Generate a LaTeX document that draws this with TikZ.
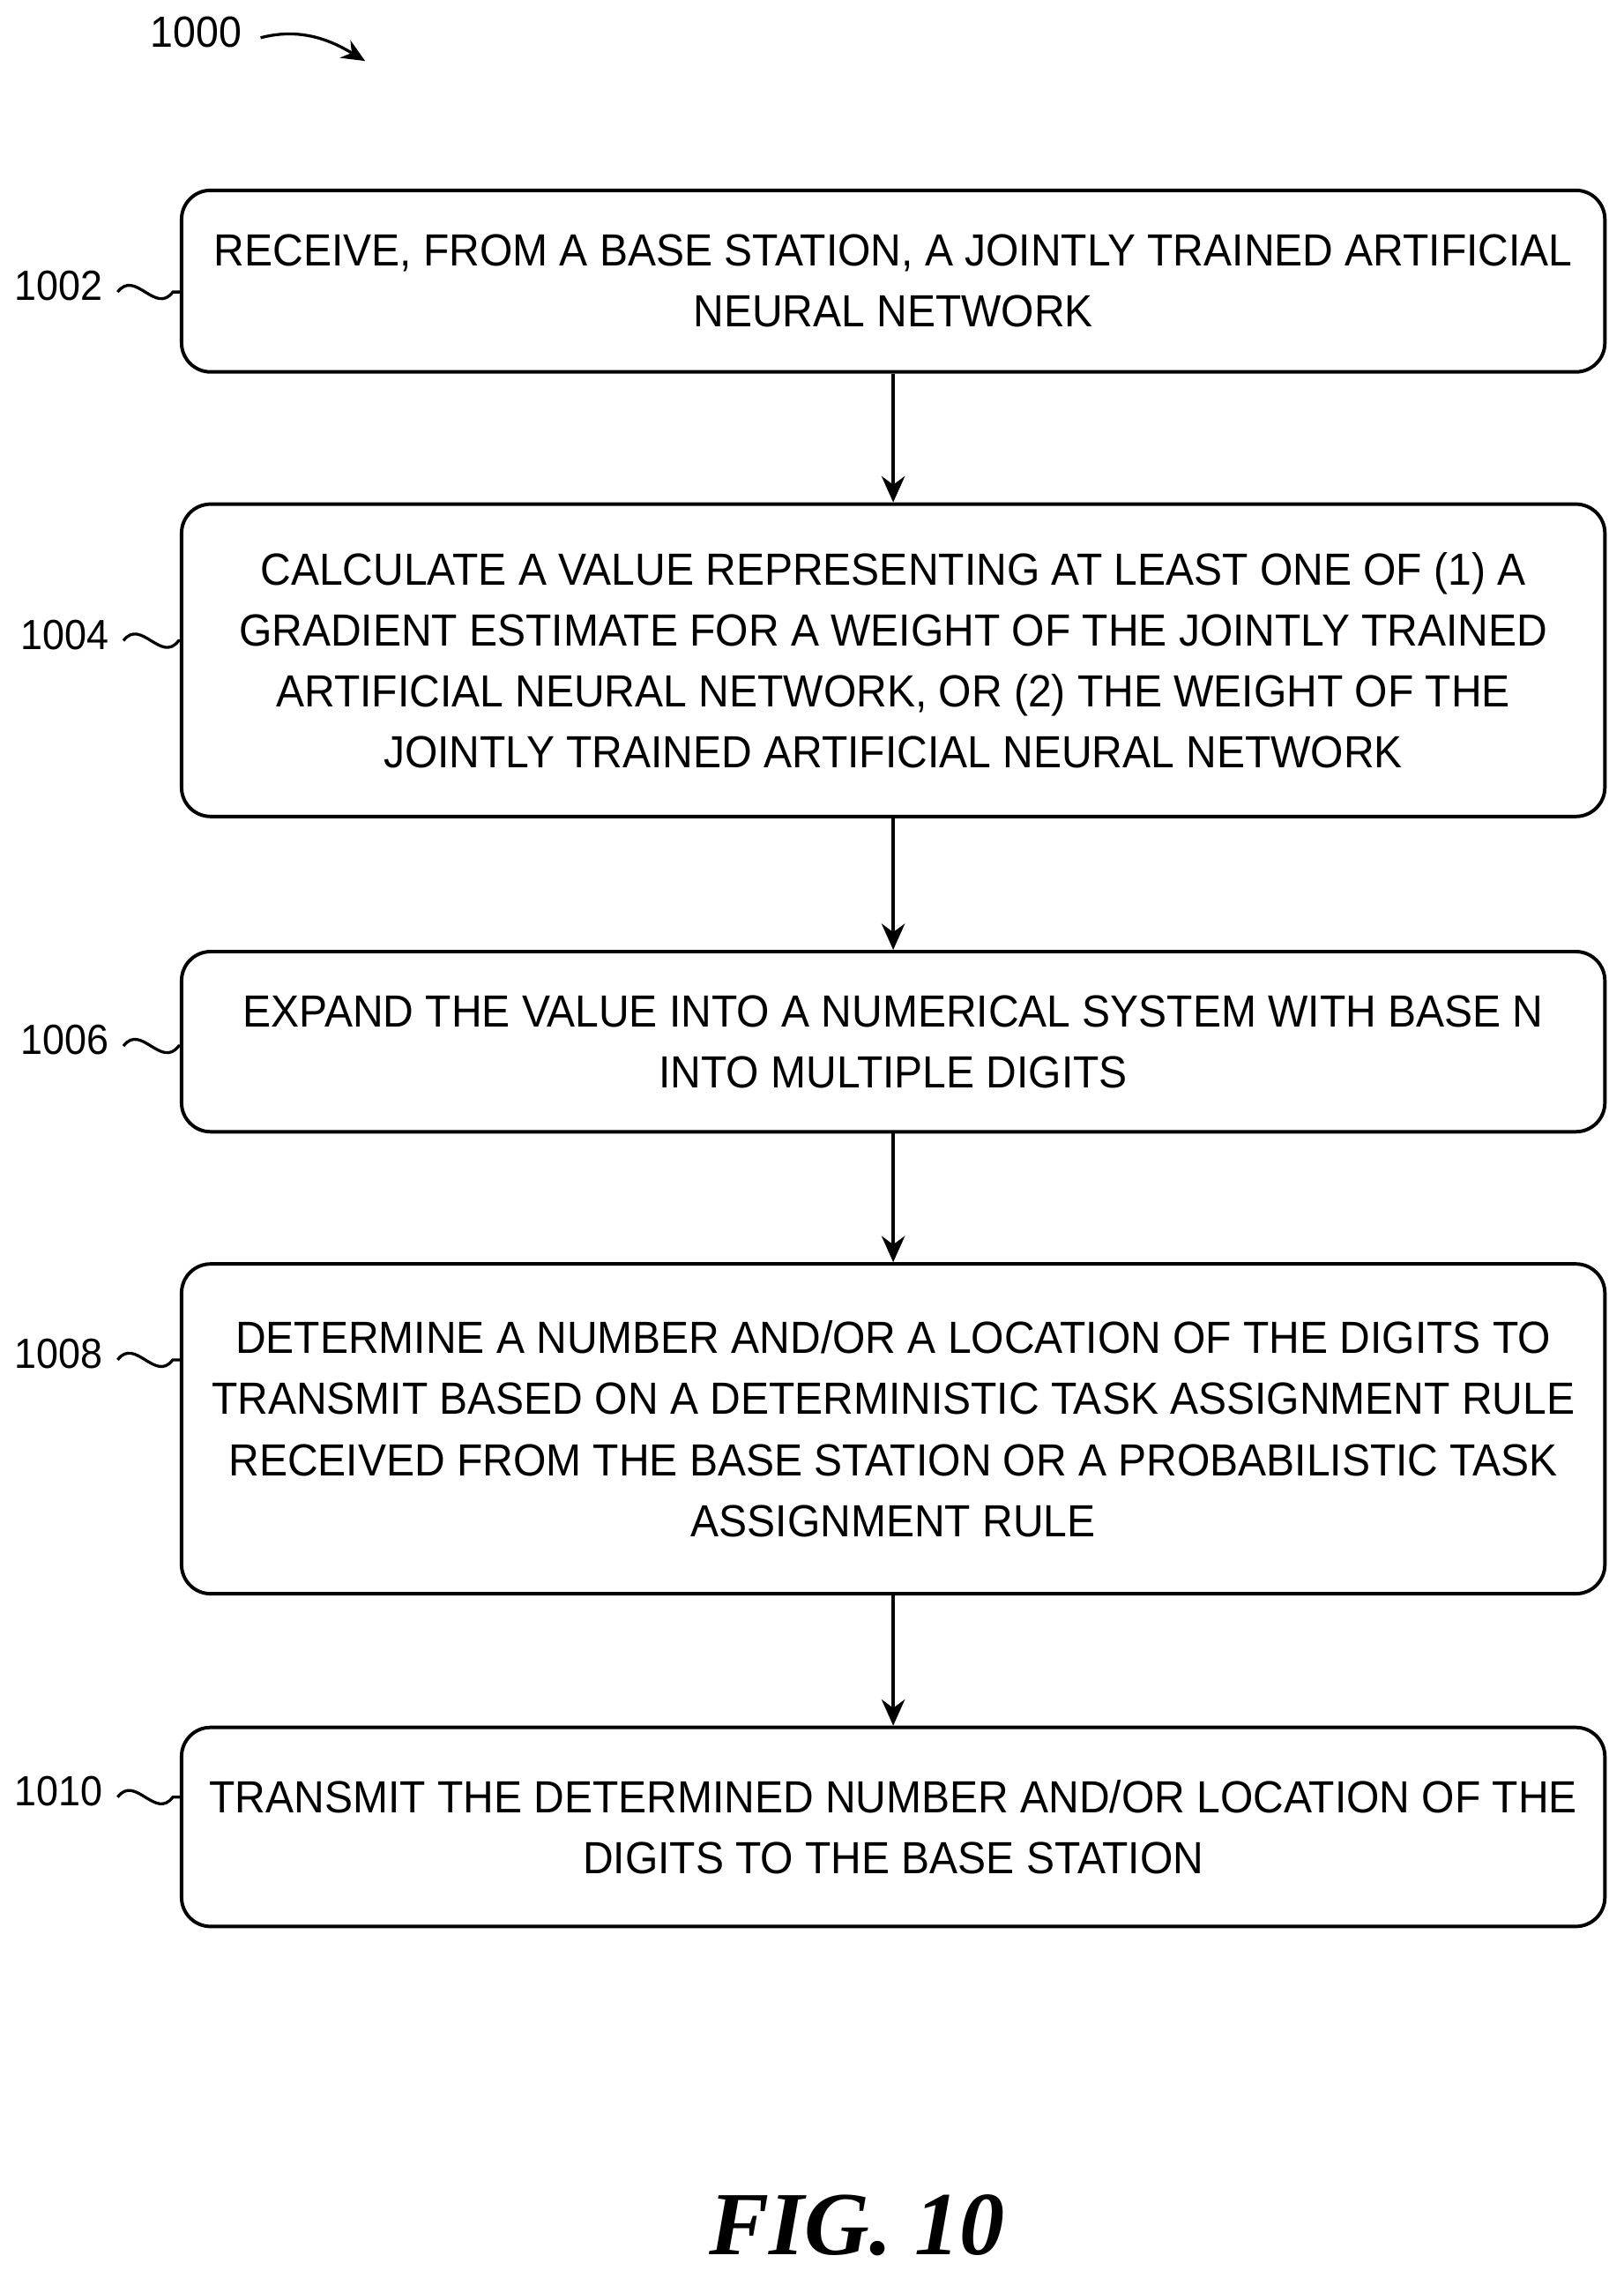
\documentclass[tikz,border=0pt]{standalone}
\usepackage{fontspec}
\setmainfont{Liberation Sans}[FakeStretch=0.94]
\newfontfamily\figfont{Liberation Serif}
\usetikzlibrary{positioning, arrows.meta}
\tikzstyle{stepbox} = [rectangle, rounded corners=10pt, minimum width=490pt, draw=black, line width=1.2pt, align=center, font=\fontsize{15.5}{21}\selectfont]
\tikzstyle{ref} = [font=\fontsize{14.5}{18}\selectfont, anchor=east]
\tikzstyle{arrow} = [line width=1.2pt,-{Stealth[length=9pt,width=8pt]}]
\tikzstyle{wave} = [line width=1pt]
\begin{document}
\begin{tikzpicture}[x=0.5pt,y=-0.5pt]
  \useasboundingbox (0,0) rectangle (1118,1568);
  \node[stepbox, minimum height=62.5pt] (s1) at (615,193.5) {RECEIVE, FROM A BASE STATION, A JOINTLY TRAINED ARTIFICIAL\\NEURAL NETWORK};
  \node[stepbox, minimum height=107.5pt] (s2) at (615,454.5) {CALCULATE A VALUE REPRESENTING AT LEAST ONE OF (1) A\\GRADIENT ESTIMATE FOR A WEIGHT OF THE JOINTLY TRAINED\\ARTIFICIAL NEURAL NETWORK, OR (2) THE WEIGHT OF THE\\JOINTLY TRAINED ARTIFICIAL NEURAL NETWORK};
  \node[stepbox, minimum height=62pt] (s3) at (615,717) {EXPAND THE VALUE INTO A NUMERICAL SYSTEM WITH BASE N\\INTO MULTIPLE DIGITS};
  \node[stepbox, minimum height=113.5pt] (s4) at (615,983.5) {DETERMINE A NUMBER AND/OR A LOCATION OF THE DIGITS TO\\TRANSMIT BASED ON A DETERMINISTIC TASK ASSIGNMENT RULE\\RECEIVED FROM THE BASE STATION OR A PROBABILISTIC TASK\\ASSIGNMENT RULE};
  \node[stepbox, minimum height=68.5pt] (s5) at (615,1257.5) {TRANSMIT THE DETERMINED NUMBER AND/OR LOCATION OF THE\\DIGITS TO THE BASE STATION};

  \draw[arrow] (s1) -- (s2);
  \draw[arrow] (s2) -- (s3);
  \draw[arrow] (s3) -- (s4);
  \draw[arrow] (s4) -- (s5);

  % reference numerals
  \node[ref] (r1) at (78,197) {1002};
  \node[ref] (r2) at (82,437) {1004};
  \node[ref] (r3) at (82,716) {1006};
  \node[ref] (r4) at (78,932) {1008};
  \node[ref] (r5) at (78,1233) {1010};
  \foreach \r/\s in {r1/s1,r2/s2,r3/s3,r4/s4,r5/s5}
    \draw[wave] (\r.east) ++(3,4) coordinate (w\r) .. controls +(12,-16) and +(-12,16) .. ++(38,0) coordinate (e\r) -- (e\r -| \s.west);

  \node[font=\fontsize{15}{18}\selectfont] (top) at (135,22) {1000};
  \draw[line width=1pt,-{Stealth[length=8pt,width=7pt]}] (top.east) ++(6,4) .. controls +(30,-8) and +(-20,-12) .. ++(72,16);

  \node[font=\figfont\bfseries\itshape\fontsize{31}{36}\selectfont] (fig) at (590,1532) {FIG. 10};
\end{tikzpicture}
\end{document}
